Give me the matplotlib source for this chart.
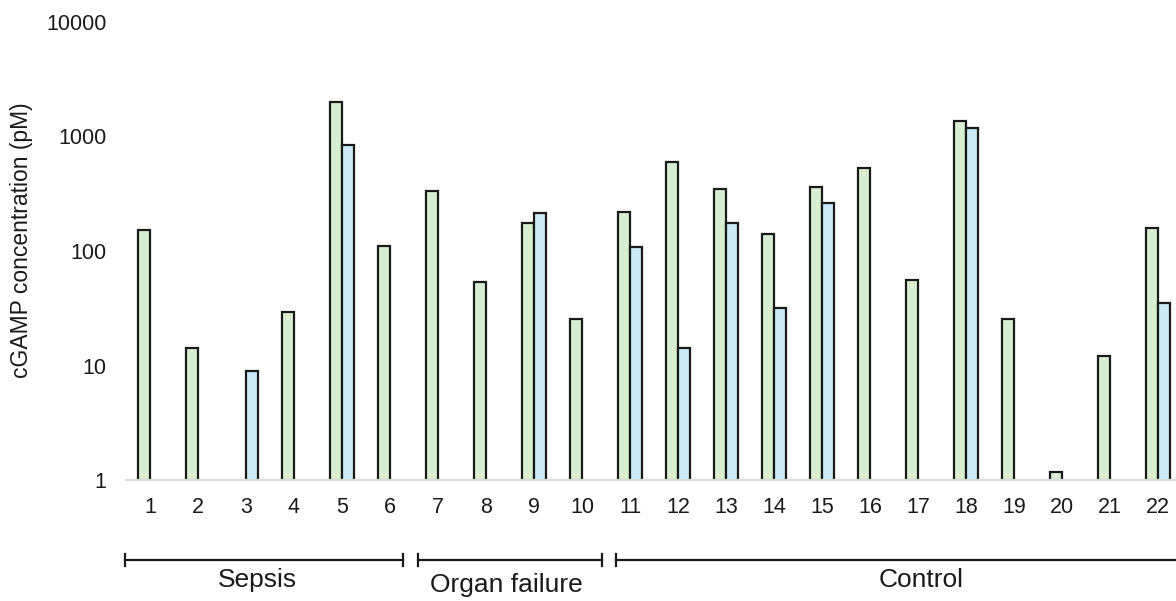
import numpy as np
import matplotlib.pyplot as plt
from matplotlib.ticker import NullLocator
from matplotlib.transforms import blended_transform_factory

plt.rcParams['font.family'] = ['Liberation Sans', 'DejaVu Sans']

nan = np.nan
samples = [str(i) for i in range(1, 23)]
green_vals = [152, 14.2, nan, 29.5, 2000, 111, 336, 54, 175, 25.3, 218,
              603, 346, 141, 365, 528, 55.8, 1358, 25.3, 1.17, 12.2, 158]
blue_vals = [nan, nan, 9.0, nan, 843, nan, nan, nan, 213, nan, 109,
             14.1, 175, 32, 264, nan, nan, 1194, nan, nan, nan, 34.9]
ytick_vals = [1, 10, 100, 1000, 10000]

groups = ['Sepsis', 'Organ failure', 'Control']
group_spans = [(-0.52, 5.27), (5.58, 9.42), (9.70, 21.8)]
group_label_x = [2.23, 7.43, 16.06]
group_label_y = [0.035, 0.027, 0.035]

W, H = 1176, 601
fig = plt.figure(figsize=(W / 100, H / 100), dpi=100)
ax = fig.add_axes([126 / W, 121 / H, (1182 - 126) / W, 458 / H])

x = np.arange(len(samples))
g = np.array(green_vals, dtype=float)
b = np.array(blue_vals, dtype=float)
mg = np.isfinite(g)
mb = np.isfinite(b)
bw = 0.25
ax.bar(x[mg] - bw / 2, g[mg], width=bw, color='#d9f0d0',
       edgecolor='#1a1a1a', linewidth=1.6, zorder=2)
ax.bar(x[mb] + bw / 2, b[mb], width=bw, color='#cce9f7',
       edgecolor='#1a1a1a', linewidth=1.6, zorder=2)

ax.set_yscale('log')
ax.set_ylim(1, 10000)
ax.set_xlim(-0.5, 21.5)
ax.yaxis.set_minor_locator(NullLocator())
ax.set_yticks(ytick_vals)
ax.set_yticklabels([str(v) for v in ytick_vals])
ax.set_xticks(x)
ax.set_xticklabels(samples)
ax.tick_params(axis='y', length=0, pad=14, labelsize=15.5, colors='#1a1a1a')
ax.tick_params(axis='x', length=0, pad=12, labelsize=15.5, colors='#1a1a1a')

for side in ['left', 'top', 'right']:
    ax.spines[side].set_visible(False)
ax.spines['bottom'].set_color('#d9d9d9')
ax.spines['bottom'].set_linewidth(1.6)
ax.spines['bottom'].set_zorder(3)

fig.text(22 / W, 1 - 240 / H, 'cGAMP concentration (pM)', rotation=90,
         ha='center', va='center', fontsize=16.5, color='#1a1a1a')

# group brackets under the sample numbers
trans = blended_transform_factory(ax.transData, fig.transFigure)
by = 1 - 560 / H
cap = 6 / H
for (x0, x1), name, lx, ly in zip(group_spans, groups, group_label_x, group_label_y):
    ax.plot([x0, x1], [by, by], color='#1a1a1a', lw=1.6, transform=trans, clip_on=False)
    for xe in (x0, x1):
        ax.plot([xe, xe], [by - cap, by + cap], color='#1a1a1a', lw=1.6,
                transform=trans, clip_on=False)
    ax.text(lx, ly, name, transform=trans, ha='center', va='center',
            fontsize=19, color='#1a1a1a')

fig.savefig('out.png', dpi=100)
